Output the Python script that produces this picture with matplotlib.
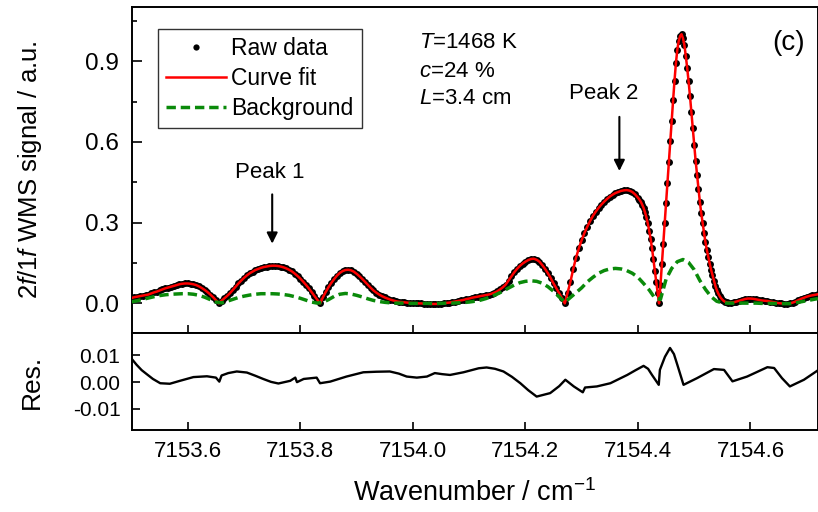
import numpy as np
import matplotlib
matplotlib.use("Agg")
import matplotlib.pyplot as plt
from matplotlib.ticker import FixedLocator, FormatStrFormatter

plt.rcParams["font.family"] = ["Liberation Sans", "DejaVu Sans"]
plt.rcParams["mathtext.fontset"] = "custom"
plt.rcParams["mathtext.rm"] = "Liberation Sans"
plt.rcParams["mathtext.it"] = "Liberation Sans:italic"
plt.rcParams["axes.unicode_minus"] = False

# ---------------- data ----------------
# wavenumber sampling of the measured signal (cm^-1)
wn_a = np.linspace(7153.500, 7154.400, 181)   # step 0.005
wn_b = np.linspace(7154.4025, 7154.560, 64)   # step 0.0025 (main peak)
wn_c = np.linspace(7154.565, 7154.720, 32)    # step 0.005
raw_x = np.concatenate([wn_a, wn_b, wn_c])

sig_a = [
    0.020, 0.023, 0.025, 0.027, 0.029, 0.031, 0.033, 0.037, 0.041, 0.044,
    0.048, 0.052, 0.056, 0.059, 0.062, 0.065, 0.068, 0.071, 0.073, 0.074,
    0.074, 0.073, 0.071, 0.068, 0.063, 0.057, 0.050, 0.042, 0.033, 0.023,
    0.012, 0.000, 0.010, 0.019, 0.028, 0.038, 0.050, 0.062, 0.074, 0.085,
    0.095, 0.104, 0.112, 0.118, 0.124, 0.128, 0.132, 0.135, 0.137, 0.139,
    0.140, 0.140, 0.139, 0.137, 0.134, 0.130, 0.125, 0.119, 0.111, 0.102,
    0.092, 0.081, 0.069, 0.056, 0.042, 0.028, 0.014, 0.000, 0.022, 0.042,
    0.060, 0.076, 0.090, 0.103, 0.113, 0.120, 0.124, 0.125, 0.123, 0.118,
    0.110, 0.101, 0.091, 0.080, 0.069, 0.058, 0.048, 0.040, 0.033, 0.027,
    0.022, 0.018, 0.014, 0.011, 0.008, 0.006, 0.005, 0.004, 0.003, 0.002,
    0.001, 0.001, 0.000, 0.000, -0.001, -0.001, -0.002, -0.002, -0.002, -0.002,
    -0.001, 0.000, 0.002, 0.003, 0.005, 0.007, 0.009, 0.011, 0.013, 0.016,
    0.018, 0.021, 0.023, 0.025, 0.027, 0.029, 0.031, 0.033, 0.036, 0.040,
    0.045, 0.052, 0.060, 0.070, 0.085, 0.100, 0.115, 0.128, 0.139, 0.148,
    0.155, 0.161, 0.165, 0.166, 0.162, 0.155, 0.142, 0.128, 0.112, 0.094,
    0.074, 0.056, 0.038, 0.019, 0.000, 0.040, 0.080, 0.128, 0.170, 0.205,
    0.235, 0.262, 0.285, 0.306, 0.325, 0.341, 0.355, 0.367, 0.378, 0.388,
    0.397, 0.404, 0.410, 0.414, 0.418, 0.420, 0.421, 0.419, 0.414, 0.405,
    0.393,
]
sig_b = [
    0.386, 0.378, 0.367, 0.355, 0.339, 0.320, 0.297, 0.270, 0.240, 0.205,
    0.165, 0.122, 0.080, 0.040, 0.000,
    0.068, 0.145, 0.221, 0.297, 0.373, 0.449, 0.527, 0.603, 0.679, 0.755,
    0.828, 0.893, 0.943, 0.975, 0.994, 1.000,
    0.985, 0.960, 0.920, 0.875, 0.825, 0.770, 0.710, 0.650, 0.588, 0.530,
    0.478, 0.425, 0.378, 0.335, 0.298, 0.262, 0.227, 0.198, 0.172, 0.148,
    0.125, 0.105, 0.085, 0.066, 0.050, 0.038, 0.028, 0.020, 0.014, 0.009,
    0.006, 0.004, 0.003,
]
sig_c = [
    0.003, 0.004, 0.007, 0.010, 0.013, 0.016, 0.018, 0.018, 0.017, 0.015,
    0.013, 0.011, 0.010, 0.009, 0.007, 0.005, 0.003, 0.001, 0.000, -0.001,
    -0.001, 0.000, 0.003, 0.007, 0.012, 0.017, 0.021, 0.025, 0.028, 0.030,
    0.032, 0.034,
]
raw_y = np.array(sig_a + sig_b + sig_c)
# the fitted curve coincides with the raw data within the line width
fit_x = raw_x
fit_y = raw_y

# background (green dashed), 0.01 cm^-1 steps
bg_x = np.linspace(7153.50, 7154.72, 123)
bg_y = [
    0.006, 0.010, 0.015, 0.020, 0.025, 0.029, 0.032, 0.034, 0.035, 0.036,
    0.036, 0.034, 0.030, 0.023, 0.014, 0.005, 0.002, 0.008, 0.015, 0.022,
    0.027, 0.031, 0.034, 0.036, 0.036, 0.036, 0.035, 0.033, 0.030, 0.025,
    0.019, 0.012, 0.005, 0.001, 0.004, 0.014, 0.026, 0.034, 0.037, 0.035,
    0.030, 0.024, 0.017, 0.011, 0.007, 0.004, 0.002, 0.001, 0.001, 0.000,
    0.000, 0.000, 0.000, 0.000, 0.000, 0.000, 0.001, 0.001, 0.002, 0.003,
    0.005, 0.008, 0.012, 0.018, 0.026, 0.035, 0.045, 0.057, 0.068, 0.077,
    0.082, 0.084, 0.082, 0.075, 0.062, 0.045, 0.024, 0.004, 0.022, 0.040,
    0.058, 0.080, 0.097, 0.112, 0.122, 0.128, 0.130, 0.128, 0.122, 0.112,
    0.097, 0.074, 0.050, 0.020, 0.015, 0.090, 0.130, 0.155, 0.163, 0.152,
    0.125, 0.085, 0.052, 0.025, 0.008, 0.002, 0.001, 0.001, 0.001, 0.001,
    0.001, 0.001, 0.000, 0.000, 0.000, -0.001, -0.001, -0.001, 0.002, 0.006,
    0.010, 0.014, 0.018,
]

# residual (raw - fit)
res_x = [
    7153.500, 7153.509, 7153.518, 7153.527, 7153.538, 7153.551, 7153.568, 7153.586,
    7153.610, 7153.634, 7153.650, 7153.656, 7153.660, 7153.672, 7153.687, 7153.705,
    7153.720, 7153.734, 7153.748, 7153.761, 7153.782, 7153.791, 7153.794, 7153.806,
    7153.829, 7153.835, 7153.853, 7153.882, 7153.912, 7153.935, 7153.959, 7153.975,
    7153.989, 7154.007, 7154.025, 7154.039, 7154.052, 7154.066, 7154.090, 7154.117,
    7154.131, 7154.146, 7154.161, 7154.176, 7154.191, 7154.205, 7154.220, 7154.244,
    7154.260, 7154.271, 7154.286, 7154.302, 7154.306, 7154.327, 7154.351, 7154.381,
    7154.396, 7154.410, 7154.418, 7154.425, 7154.437, 7154.439, 7154.448, 7154.457,
    7154.464, 7154.470, 7154.481, 7154.505, 7154.535, 7154.553, 7154.568, 7154.594,
    7154.630, 7154.642, 7154.656, 7154.670, 7154.695, 7154.721,
]
res_y = [
    0.0088, 0.0065, 0.0045, 0.0030, 0.0012, -0.0004, -0.0006, 0.0005,
    0.0019, 0.0022, 0.0017, 0.0002, 0.0025, 0.0034, 0.0040, 0.0036,
    0.0024, 0.0012, 0.0001, -0.0005, 0.0005, 0.0017, 0.0000, 0.0012,
    0.0017, -0.0004, 0.0002, 0.0021, 0.0037, 0.0039, 0.0040, 0.0032,
    0.0021, 0.0017, 0.0021, 0.0034, 0.0030, 0.0027, 0.0037, 0.0052,
    0.0055, 0.0050, 0.0040, 0.0020, -0.0004, -0.0030, -0.0054, -0.0041,
    -0.0015, 0.0009, -0.0016, -0.0038, -0.0020, -0.0016, -0.0004, 0.0027,
    0.0045, 0.0061, 0.0050, 0.0027, -0.0010, 0.0046, 0.0095, 0.0128,
    0.0105, 0.0065, -0.0010, 0.0015, 0.0049, 0.0046, 0.0003, 0.0021,
    0.0056, 0.0053, 0.0015, -0.0016, 0.0009, 0.0046,
]

x_ticks = [7153.6, 7153.8, 7154.0, 7154.2, 7154.4, 7154.6]
top_yticks = [0.0, 0.3, 0.6, 0.9]
top_yminor = [0.15, 0.45, 0.75, 1.05]
res_yticks = [-0.01, 0.00, 0.01]

# ---------------- figure ----------------
fig = plt.figure(figsize=(8.18, 5.12), dpi=100)
ax1 = fig.add_axes([0.1608, 0.3496, 0.8392, 0.6361])
ax2 = fig.add_axes([0.1608, 0.1602, 0.8392, 0.1894])

ax1.plot(raw_x, raw_y, "o", color="black", markersize=5.0, markeredgewidth=0,
         label="Raw data", zorder=2)
ax1.plot(fit_x, fit_y, "-", color="#ff0000", lw=1.8, label="Curve fit", zorder=3)
ax1.plot(bg_x, bg_y, "--", color="#0a8a0a", lw=2.5, dashes=(2.7, 1.4),
         label="Background", zorder=4)

ax1.set_xlim(7153.5, 7154.72)
ax1.set_ylim(-0.11, 1.10)
ax1.xaxis.set_major_locator(FixedLocator(x_ticks))
ax1.yaxis.set_major_locator(FixedLocator(top_yticks))
ax1.yaxis.set_minor_locator(FixedLocator(top_yminor))
ax1.yaxis.set_major_formatter(FormatStrFormatter("%.1f"))
ax1.tick_params(axis="x", which="both", direction="in", length=6, width=1.2,
                labelbottom=False, bottom=True, top=False)
ax1.tick_params(axis="y", which="major", direction="in", length=7, width=1.2,
                labelsize=17.5, pad=9, right=False)
ax1.tick_params(axis="y", which="minor", direction="in", length=3.5, width=1.2,
                right=False)
for s in ax1.spines.values():
    s.set_linewidth(1.4)
ax1.set_ylabel(r"$\mathit{2f/1f}$ WMS signal / a.u.", fontsize=18.5)
ax1.yaxis.set_label_coords(-0.128, 0.5)

leg = ax1.legend(loc="upper left", bbox_to_anchor=(0.0386, 0.933), borderaxespad=0,
                 fontsize=16.5, frameon=True, fancybox=False, edgecolor="black",
                 handlelength=2.6, handletextpad=0.25, labelspacing=0.3,
                 borderpad=0.35, markerscale=0.9)
leg.get_frame().set_linewidth(1.0)

ax1.text(7154.011, 0.969, r"$\mathit{T}$=1468 K", fontsize=16, va="center", ha="left")
ax1.text(7154.011, 0.861, r"$\mathit{c}$=24 %", fontsize=16, va="center", ha="left")
ax1.text(7154.011, 0.760, r"$\mathit{L}$=3.4 cm", fontsize=16, va="center", ha="left")
ax1.text(7154.667, 0.969, "(c)", fontsize=20, va="center", ha="center")

ax1.text(7153.746, 0.486, "Peak 1", fontsize=16, va="center", ha="center")
ax1.annotate("", xy=(7153.750, 0.222), xytext=(7153.750, 0.405),
             arrowprops=dict(arrowstyle="-|>", color="black", lw=1.5,
                             mutation_scale=16, shrinkA=0, shrinkB=0))
ax1.text(7154.339, 0.778, "Peak 2", fontsize=16, va="center", ha="center")
ax1.annotate("", xy=(7154.367, 0.492), xytext=(7154.367, 0.693),
             arrowprops=dict(arrowstyle="-|>", color="black", lw=1.5,
                             mutation_scale=16, shrinkA=0, shrinkB=0))

# residual panel
ax2.plot(res_x, res_y, "-", color="black", lw=1.7)
ax2.set_xlim(7153.5, 7154.72)
ax2.set_ylim(-0.0179, 0.0184)
ax2.xaxis.set_major_locator(FixedLocator(x_ticks))
ax2.xaxis.set_major_formatter(FormatStrFormatter("%.1f"))
ax2.yaxis.set_major_locator(FixedLocator(res_yticks))
ax2.yaxis.set_major_formatter(FormatStrFormatter("%.2f"))
ax2.tick_params(axis="x", direction="in", length=5.5, width=1.2, labelsize=16,
                pad=8, top=False)
ax2.tick_params(axis="y", direction="in", length=6, width=1.2, labelsize=15,
                pad=8, right=False)
for s in ax2.spines.values():
    s.set_linewidth(1.4)
ax2.set_ylabel("Res.", fontsize=19)
ax2.yaxis.set_label_coords(-0.128, 0.5)
ax2.set_xlabel("Wavenumber / cm$^{-1}$", fontsize=19.5, labelpad=12)

fig.savefig("out.png", dpi=100)
